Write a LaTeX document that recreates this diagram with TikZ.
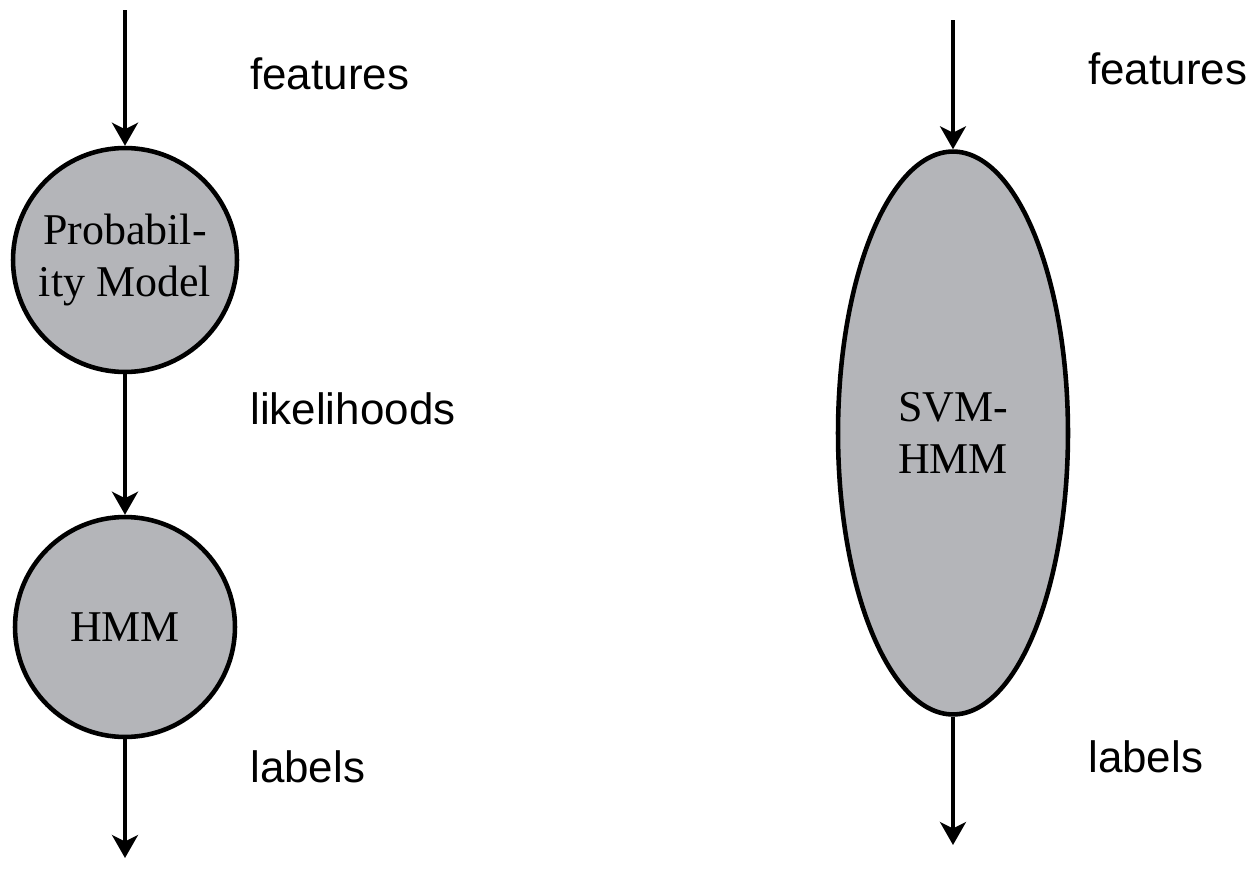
\documentclass[tikz,border=0pt]{standalone}
\usepackage{fontspec}
\setmainfont{Liberation Serif}
\setsansfont{Liberation Sans}
\usepackage{xcolor}
\usepackage{tikz}
\usetikzlibrary{arrows.meta,shapes.geometric}

\definecolor{blobgray}{RGB}{180,181,185}

\tikzset{
  blob/.style={draw=black, line width=2.6pt, fill=blobgray, align=center,
    font=\fontsize{25}{29.6}\selectfont, inner sep=0pt},
  flow/.style={line width=2pt, -{Stealth[length=4.6mm,width=5.2mm,inset=1.3mm]}},
  tag/.style={anchor=west, font=\sffamily\fontsize{25}{30}\selectfont, inner sep=0pt}
}

\begin{document}
\begin{tikzpicture}[x=0.02cm, y=-0.02cm]
\useasboundingbox (0,0) rectangle (1255,872);

% left chain
\node[blob, circle, minimum size=4.48cm] (prob) at (125,260) {Probabil-\\ity Model};
\node[blob, circle, minimum size=4.40cm] (hmm) at (125,627) {HMM};
\coordinate (ltop) at (125,10);
\coordinate (lbot) at (125,858);

\draw[flow] (ltop) -- (prob);
\draw[flow] (prob) -- (hmm);
\draw[flow] (hmm) -- (lbot);

\node[tag] (lfeat) at (250,74) {features};
\node[tag] (llik) at (250,409) {likelihoods};
\node[tag] (llab) at (250,767) {labels};

% right chain
\node[blob, ellipse, minimum width=4.60cm, minimum height=11.26cm] (svm) at (953,433) {SVM-\\HMM};
\coordinate (rtop) at (953,20);
\coordinate (rbot) at (953,845);

\draw[flow] (rtop) -- (svm);
\draw[flow] (svm) -- (rbot);

\node[tag] (rfeat) at (1088,69) {features};
\node[tag] (rlab) at (1088,757) {labels};
\end{tikzpicture}
\end{document}
